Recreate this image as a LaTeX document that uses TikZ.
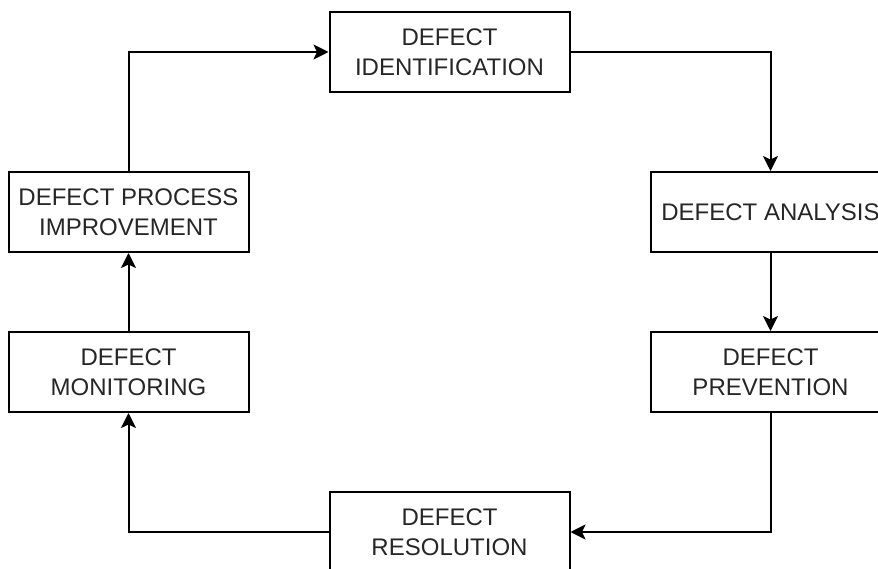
\documentclass[tikz,border=0pt]{standalone}
\usepackage{fontspec}
\setmainfont{Liberation Sans}
\usetikzlibrary{arrows.meta, calc}
\tikzset{
    stagebox/.style={draw=black, line width=2pt, minimum width=240pt, minimum height=80pt,
        inner sep=0pt, align=center, text=black!85, font=\fontsize{24}{30}\selectfont},
    flow/.style={line width=2pt, -{Stealth[length=15pt, width=15pt, inset=3.5pt]}}
}

\begin{document}
\begin{tikzpicture}[x=1pt, y=-1pt]
            \useasboundingbox (0, 0) rectangle (878, 569);

            \coordinate (I) at (449.5, 52);
            \coordinate (A) at (770.5, 212);
            \coordinate (P) at (770.5, 372);
            \coordinate (R) at (449.5, 532);
            \coordinate (M) at (128.5, 372);
            \coordinate (K) at (128.5, 212);

            \node[stagebox] (ident) at (I) {DEFECT\\IDENTIFICATION};
            \node[stagebox] (analysis) at (A) {DEFECT ANALYSIS};
            \node[stagebox] (prevention) at (P) {DEFECT\\PREVENTION};
            \node[stagebox] (resolution) at (R) {DEFECT\\RESOLUTION};
            \node[stagebox] (monitoring) at (M) {DEFECT\\MONITORING};
            \node[stagebox] (improvement) at (K) {DEFECT PROCESS\\IMPROVEMENT};

            \draw[flow] (ident.east) -| (analysis.north);
            \draw[flow] (analysis.south) -- (prevention.north);
            \draw[flow] (prevention.south) |- (resolution.east);
            \draw[flow] (resolution.west) -| (monitoring.south);
            \draw[flow] (monitoring.north) -- (improvement.south);
            \draw[flow] (improvement.north) |- (ident.west);

        \end{tikzpicture}
\end{document}
